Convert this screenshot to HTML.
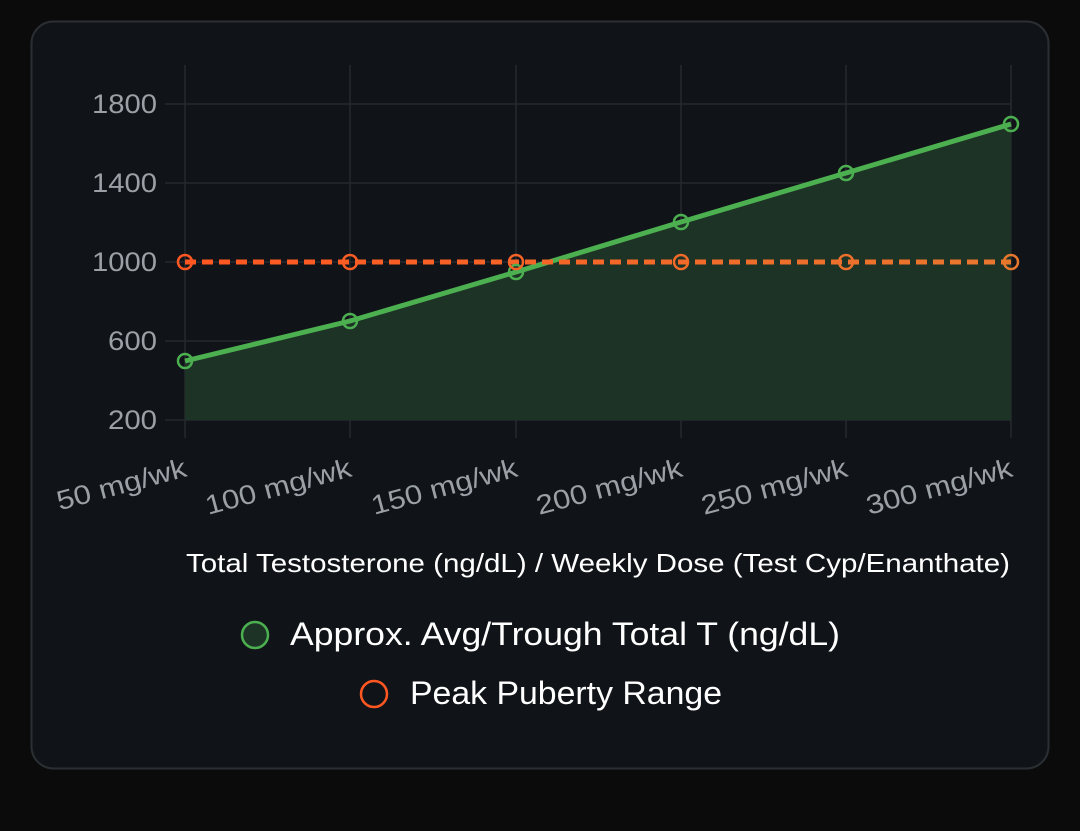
<!DOCTYPE html>
<html><head><meta charset="utf-8"><style>
html,body{margin:0;padding:0;background:#0b0b0b;width:1080px;height:831px;overflow:hidden}
svg{display:block;font-family:"Liberation Sans",sans-serif}
</style></head><body>
<svg width="1080" height="831" viewBox="0 0 1080 831">
<defs><linearGradient id="og" gradientUnits="userSpaceOnUse" x1="185" y1="0" x2="1011" y2="0"><stop offset="0" stop-color="#ff5722"/><stop offset="1" stop-color="#e8772e"/></linearGradient></defs>
<rect x="31.5" y="21.5" width="1017" height="747" rx="22" fill="#101418" stroke="#2b2f34" stroke-width="2"/>
<g stroke="#252a2e" stroke-width="1.5">
<line x1="185" y1="65" x2="185" y2="438"/><line x1="350" y1="65" x2="350" y2="438"/><line x1="516" y1="65" x2="516" y2="438"/><line x1="681" y1="65" x2="681" y2="438"/><line x1="846" y1="65" x2="846" y2="438"/><line x1="1011" y1="65" x2="1011" y2="438"/>
<line x1="165" y1="104" x2="1011" y2="104"/><line x1="165" y1="183" x2="1011" y2="183"/><line x1="165" y1="262" x2="1011" y2="262"/><line x1="165" y1="341" x2="1011" y2="341"/><line x1="165" y1="420" x2="1011" y2="420"/>
</g>
<g fill="#9aa0a6" font-size="27" text-anchor="end">
<text x="157" y="113" textLength="65" lengthAdjust="spacingAndGlyphs">1800</text><text x="157" y="192" textLength="65" lengthAdjust="spacingAndGlyphs">1400</text><text x="157" y="271" textLength="65" lengthAdjust="spacingAndGlyphs">1000</text><text x="157" y="350" textLength="49" lengthAdjust="spacingAndGlyphs">600</text><text x="157" y="429" textLength="49" lengthAdjust="spacingAndGlyphs">200</text>
</g>
<g fill="#9aa0a6" font-size="27">
<text transform="translate(188,476) rotate(-15)" x="-133" textLength="133" lengthAdjust="spacingAndGlyphs">50 mg/wk</text>
<text transform="translate(353,476) rotate(-15)" x="-150" textLength="150" lengthAdjust="spacingAndGlyphs">100 mg/wk</text>
<text transform="translate(519,476) rotate(-15)" x="-150" textLength="150" lengthAdjust="spacingAndGlyphs">150 mg/wk</text>
<text transform="translate(684,476) rotate(-15)" x="-150" textLength="150" lengthAdjust="spacingAndGlyphs">200 mg/wk</text>
<text transform="translate(849,476) rotate(-15)" x="-150" textLength="150" lengthAdjust="spacingAndGlyphs">250 mg/wk</text>
<text transform="translate(1014,476) rotate(-15)" x="-150" textLength="150" lengthAdjust="spacingAndGlyphs">300 mg/wk</text>
</g>
<polygon points="185,361 350,321 516,272 681,222 846,173 1011,124 1011,420 185,420" fill="#1d3326"/>
<polyline points="185,361 350,321 516,272 681,222 846,173 1011,124" fill="none" stroke="#4caf50" stroke-width="5"/>
<line x1="185" y1="262" x2="1011" y2="262" stroke="url(#og)" stroke-width="5" stroke-dasharray="11,6"/>
<g fill="none" stroke="#4caf50" stroke-width="2.5">
<circle cx="185" cy="361" r="7"/><circle cx="350" cy="321" r="7"/><circle cx="516" cy="272" r="7"/><circle cx="681" cy="222" r="7"/><circle cx="846" cy="173" r="7"/><circle cx="1011" cy="124" r="7"/>
</g>
<g fill="none" stroke-width="2.5">
<circle cx="185" cy="262" r="7" stroke="#ff5722"/><circle cx="350" cy="262" r="7" stroke="#fb5d24"/><circle cx="516" cy="262" r="7" stroke="#f66326"/><circle cx="681" cy="262" r="7" stroke="#f16a28"/><circle cx="846" cy="262" r="7" stroke="#ec702b"/><circle cx="1011" cy="262" r="7" stroke="#e8772e"/>
</g>
<text x="186" y="572" fill="#ffffff" font-size="26" textLength="824" lengthAdjust="spacingAndGlyphs">Total Testosterone (ng/dL) / Weekly Dose (Test Cyp/Enanthate)</text>
<circle cx="255" cy="635" r="13" fill="#1d3326" stroke="#4caf50" stroke-width="2.5"/>
<text x="290" y="645" fill="#ffffff" font-size="32" textLength="550" lengthAdjust="spacingAndGlyphs">Approx. Avg/Trough Total T (ng/dL)</text>
<circle cx="374" cy="694" r="13" fill="none" stroke="#ff5722" stroke-width="2.5"/>
<text x="410" y="704" fill="#ffffff" font-size="32" textLength="312" lengthAdjust="spacingAndGlyphs">Peak Puberty Range</text>
</svg>
</body></html>
